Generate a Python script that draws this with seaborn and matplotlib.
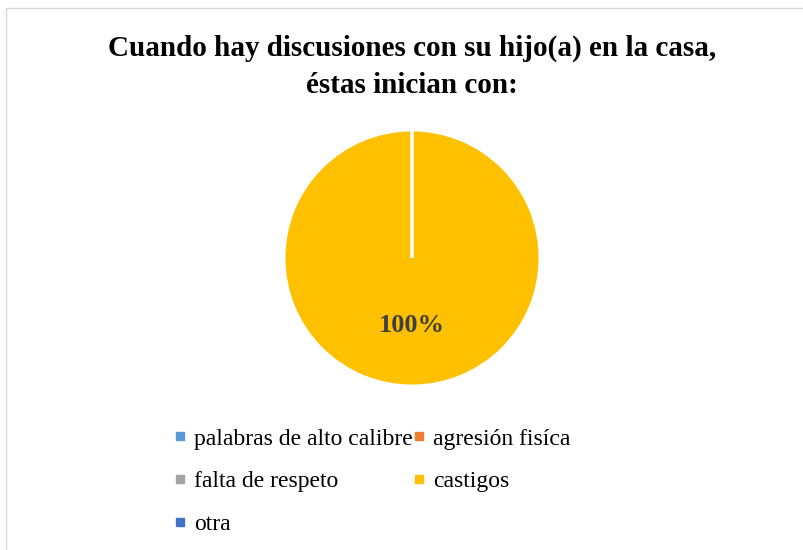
import matplotlib
matplotlib.use("Agg")
import matplotlib.pyplot as plt
from matplotlib.lines import Line2D
from matplotlib.patches import Rectangle
import seaborn as sns

categories = ["palabras de alto calibre", "agresión fisíca", "falta de respeto", "castigos", "otra"]
values = [0, 0, 0, 100, 0]
colors = ["#5B9BD5", "#ED7D31", "#A5A5A5", "#FFC000", "#4472C4"]
title = "Cuando hay discusiones con su hijo(a) en la casa,\néstas inician con:"

sns.set_theme(style="white")
plt.rcParams["font.family"] = ["Liberation Serif", "DejaVu Serif"]

W, H = 804, 550
fig = plt.figure(figsize=(W / 100, H / 100), dpi=100)
fig.patch.set_facecolor("white")

# outer chart border
fig.add_artist(Rectangle((6 / W, -0.02), 1.0, 1 - 8 / H + 0.02, transform=fig.transFigure,
                         fill=False, edgecolor="#D9D9D9", linewidth=1.0))

cx, cy, r = 412, 258, 127
ax = fig.add_axes([(cx - r) / W, (H - cy - r) / H, 2 * r / W, 2 * r / H])

def pct(p):
    return f"{p:.0f}%" if p > 0 else ""

wedges, texts, autotexts = ax.pie(values, colors=colors, startangle=90, counterclock=False,
                                  autopct=pct, pctdistance=0.53,
                                  wedgeprops=dict(edgecolor="white", linewidth=2.5),
                                  textprops=dict(fontsize=19, fontweight="bold", color="#404040"))
ax.set_xlim(-0.99, 0.99)
ax.set_ylim(-0.99, 0.99)
ax.set_aspect("equal")
ax.axis("off")

fig.text(cx / W, 1 - 67 / H, title, ha="center", va="center", fontsize=21,
         fontweight="bold", color="black", linespacing=1.45)

handles = [Line2D([0], [0], marker="s", linestyle="none", markersize=6,
                  markerfacecolor=c, markeredgecolor=c) for c in colors]
order = [0, 2, 4, 1, 3]
leg = fig.legend([handles[i] for i in order], [categories[i] for i in order],
                 ncol=2, loc="upper left", bbox_to_anchor=(174 / W, 1 - 428 / H),
                 frameon=False, fontsize=17, handlelength=0.5, handletextpad=0.35,
                 columnspacing=0.0, labelspacing=0.9, borderaxespad=0, borderpad=0)
for t in leg.get_texts():
    t.set_color("#000000")

fig.savefig("out.png", dpi=100, facecolor="white")
